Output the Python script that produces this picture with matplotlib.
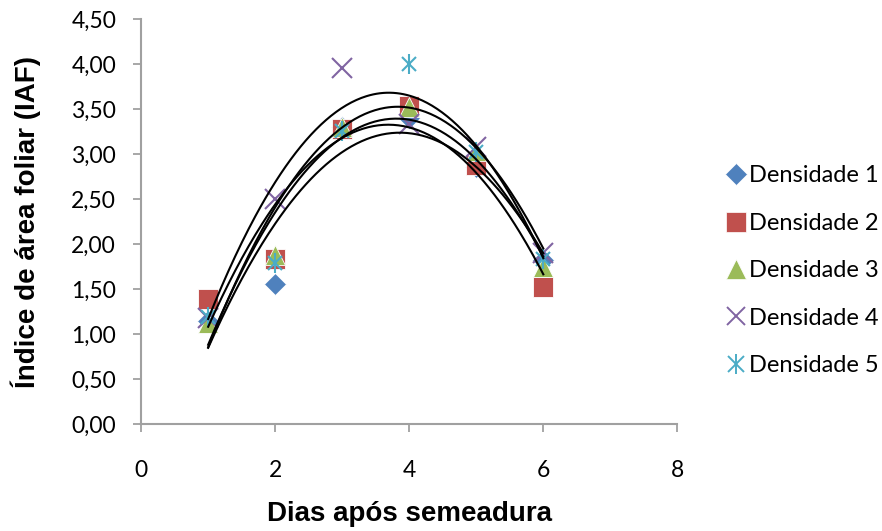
import numpy as np
import matplotlib
matplotlib.use("Agg")
import matplotlib.pyplot as plt
from matplotlib.ticker import FuncFormatter
from matplotlib.lines import Line2D

# Dias após semeadura
dias = [1, 2, 3, 4, 5, 6]

# IAF por densidade
dens1 = [1.15, 1.56, 3.30, 3.40, 2.86, 1.82]
dens2 = [1.39, 1.84, 3.28, 3.54, 2.88, 1.53]
dens3 = [1.12, 1.88, 3.30, 3.52, 3.04, 1.75]
dens4 = [1.18, 2.50, 3.96, 3.34, 3.08, 1.90]
dens5 = [1.19, 1.79, 3.26, 4.00, 3.02, 1.84]

series = [dens1, dens2, dens3, dens4, dens5]
labels = ["Densidade 1", "Densidade 2", "Densidade 3", "Densidade 4", "Densidade 5"]
colors = ["#4F81BD", "#C0504D", "#9BBB59", "#8064A2", "#4BACC6"]
markers = ["D", "s", "^", "x", "*x"]
sizes = [11, 14, 14, 14, 14]

fig = plt.figure(figsize=(8.82, 5.31), dpi=100)
ax = fig.add_axes([0.160, 0.201, 0.608, 0.763])

tick_font = "Lato"


def draw_marker(axis, xs, ys, m, c, s):
    if m == "x":
        axis.plot(xs, ys, linestyle="none", marker="x", color=c, markersize=s,
                  markeredgewidth=1.5, zorder=3)
    elif m == "*x":
        # asterisco: cruz diagonal mais barra vertical
        axis.plot(xs, ys, linestyle="none", marker="x", color=c, markersize=s * 0.75,
                  markeredgewidth=1.5, zorder=3)
        axis.plot(xs, ys, linestyle="none", marker="|", color=c, markersize=s,
                  markeredgewidth=1.5, zorder=3)
    else:
        axis.plot(xs, ys, linestyle="none", marker=m, color=c, markersize=s,
                  markeredgecolor="white", markeredgewidth=0.6, zorder=3)


for ys, c, m, s in zip(series, colors, markers, sizes):
    draw_marker(ax, dias, ys, m, c, s)

# linhas de tendência polinomiais (2ª ordem)
xx = np.linspace(1, 6, 200)
for ys in series:
    coef = np.polyfit(dias, ys, 2)
    ax.plot(xx, np.polyval(coef, xx), color="black", linewidth=1.5, zorder=4)

ax.set_xlim(0, 8)
ax.set_ylim(0, 4.5)
ax.set_xticks([0, 2, 4, 6, 8])
ax.set_yticks(np.arange(0, 4.51, 0.5))
ax.yaxis.set_major_formatter(FuncFormatter(lambda v, p: f"{v:.2f}".replace(".", ",")))

for side in ["top", "right"]:
    ax.spines[side].set_visible(False)
for side in ["left", "bottom"]:
    ax.spines[side].set_color("#A0A0A0")
    ax.spines[side].set_linewidth(1.5)
ax.tick_params(axis="both", direction="out", length=6, width=1.3, color="#A0A0A0",
               labelsize=16.5)
ax.tick_params(axis="y", pad=12)
ax.tick_params(axis="x", pad=20)
for t in ax.get_xticklabels() + ax.get_yticklabels():
    t.set_fontfamily(tick_font)

ax.set_xlabel("Dias após semeadura", fontsize=20, fontweight="bold",
              fontfamily="Liberation Sans", labelpad=14)
ax.set_ylabel("Índice de área foliar (IAF)", fontsize=20, fontweight="bold",
              fontfamily="Liberation Sans", labelpad=22)

# legenda
handles = []
for c, m, s in zip(colors, markers, sizes):
    if m == "*x":
        handles.append((Line2D([], [], linestyle="none", marker="x", color=c,
                               markersize=11, markeredgewidth=1.4),
                        Line2D([], [], linestyle="none", marker="|", color=c,
                               markersize=14, markeredgewidth=1.4)))
    elif m == "x":
        handles.append(Line2D([], [], linestyle="none", marker="x", color=c,
                              markersize=13, markeredgewidth=1.4))
    else:
        handles.append(Line2D([], [], linestyle="none", marker=m, color=c,
                              markersize=s, markeredgecolor="white",
                              markeredgewidth=0.5))
leg = fig.legend(handles, labels, loc="center left", bbox_to_anchor=(0.797, 0.49),
                 frameon=False, handletextpad=0.05, labelspacing=1.12,
                 prop={"family": tick_font, "size": 17}, handlelength=1.0)

fig.savefig("out.png", dpi=100)
